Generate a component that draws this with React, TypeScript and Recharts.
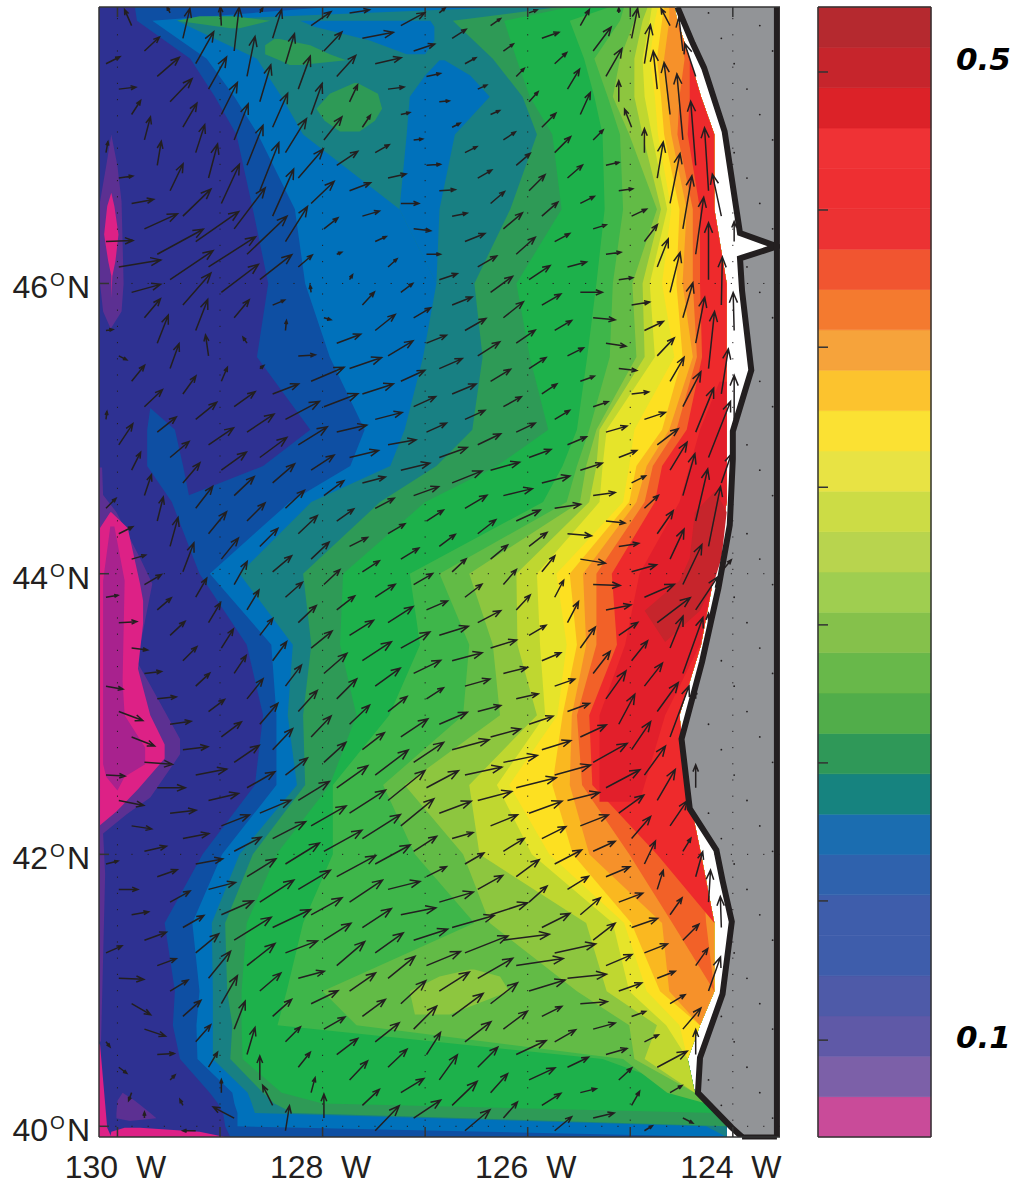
import React from 'react';
import { ComposedChart, BarChart, Area, Bar, Line, Scatter, XAxis, YAxis, ReferenceLine } from 'recharts';

const merc = (lat: number) => (180 / Math.PI) * Math.log(Math.tan(Math.PI / 4 + (lat * Math.PI) / 360));
const unmerc = (m: number) => (360 / Math.PI) * Math.atan(Math.exp((m * Math.PI) / 180)) - 90;

const W0 = 123.54;
const W1 = 130.18;
const LAT0 = 39.92;
const LAT1 = 47.84;
const lonTicks = [130, 129, 128, 127, 126, 125, 124];
const latTicks = [40, 42, 44, 46];

// contour outlines: degrees west of each contour's western edge, per latitude
const rowLat = [39.92, 40, 40.1, 40.17, 40.25, 40.5, 40.75, 41, 41.5, 42, 42.5, 43, 43.5, 44, 44.5, 44.75, 45, 45.5, 46, 46.5, 47, 47.25, 47.5, 47.75, 47.84];
const fieldEast = [124.06, 124.06, 124.16, 124.26, 124.37, 124.44, 124.32, 124.18, 124.18, 124.31, 124.45, 124.52, 124.31, 124.18, 124.06, 124.06, 124.06, 124.06, 124.06, 124.18, 124.18, 124.31, 124.42, 124.54, 124.57];
const _ = null;
const westDB = [128.9, 128.95, 128.97, 129.02, 129.1, 129.39, 129.46, 129.44, 129.54, 129.17, 128.66, 128.58, 128.74, 129.2, 129.47, 128.58, 128.12, 128.64, 128.53, 128.68, 128.84, 129.05, 129.29, 129.81, 129.83];
const westB = [_, 128.83, 128.83, 128.86, 128.88, 129.22, 129.23, 129.2, 129.27, 128.98, 128.45, 128.45, 128.5, 129.1, 128.32, 127.73, 127.59, 127.93, 128.17, 128.27, 128.63, 128.86, 129.13, 129.66, 127.93];
const westT = [_, 124.26, 128.66, 128.69, 128.73, 129.07, 129.07, 129.07, 129.08, 128.81, 128.25, 128.34, 128.29, 128.81, 128.11, 127.34, 127.2, 127.02, 126.89, 127.25, 128.19, 128.4, 128.64, 129.42, 126.17];
const westDG = [_, _, 128.29, 128.47, 128.58, 128.9, 128.88, 128.93, 128.95, 128.68, 128.17, 128.19, 128.11, 128.19, 127.44, 126.89, 126.54, 126.44, 126.52, 126.17, 125.91, 126.05, 126.34, 126.73, 125.69];
const westG = [_, _, _, 128.0, 128.4, 128.78, 128.79, 128.79, 128.74, 128.45, 127.93, 127.67, 127.83, 127.8, 127.0, 126.3, 125.8, 125.98, 126.11, 125.67, 125.76, 125.98, 126.11, 126.23, 125.59];
const westG2 = [_, _, _, _, _, 125.27, 128.44, 128.35, 128.19, 127.9, 127.9, 127.35, 127.05, 127.15, 125.85, 125.66, 125.52, 125.42, 125.33, 125.25, 125.27, 125.35, 125.45, 125.59, 125.2];
const westG3 = [_, _, _, _, 124.64, 125.07, 127.67, 128.0, 126.52, 127.1, 127.41, 126.63, 126.57, 126.86, 125.62, 125.52, 125.4, 125.2, 125.17, 125.07, 125.1, 125.22, 125.35, 125.1, 125.06];
const westG4 = [_, _, _, _, _, 124.96, 125.01, 125.52, 126.37, 126.63, 127.2, 126.27, 126.34, 126.57, 125.49, 125.43, 125.33, 124.94, 124.98, 124.74, 125.01, 125.17, 125.1, 124.96, 124.91];
const westYG = [_, _, _, _, _, 124.86, 124.74, 125.23, 125.43, 126.47, 126.57, 125.91, 126.1, 126.11, 125.4, 125.33, 125.3, 124.86, 124.88, 124.7, 124.88, 124.96, 124.96, 124.88, 124.83];
const westLY = [_, _, _, _, _, _, 124.65, 125.01, 125.17, 125.96, 126.3, 125.83, 125.88, 125.91, 125.3, 125.27, 125.23, 124.76, 124.81, 124.64, 124.79, 124.86, 124.88, 124.81, 124.79];
const westY = [_, _, _, _, _, _, 124.52, 124.84, 125.06, 125.79, 126.18, 125.71, 125.62, 125.72, 125.07, 125.01, 124.96, 124.57, 124.69, 124.6, 124.73, 124.76, 124.81, 124.76, 124.73];
const westAmber = [_, _, _, _, _, _, _, 124.71, 124.99, 125.56, 125.76, 125.66, 125.52, 125.59, 125.01, 124.94, 124.69, 124.49, 124.55, 124.52, 124.67, 124.7, 124.74, 124.69, 124.67];
const westOrange = [_, _, _, _, _, _, _, 124.62, 124.69, 125.4, 125.59, 125.57, 125.43, 125.46, 124.94, 124.84, 124.62, 124.39, 124.49, 124.45, 124.6, 124.64, 124.67, 124.62, 124.62];
const westORed = [_, _, _, _, _, _, _, _, 124.59, 125.01, 125.47, 125.52, 125.33, 125.33, 124.86, 124.78, 124.55, 124.35, 124.39, 124.39, 124.54, 124.52, 124.47, _, _];
const eastORed = [124.06, 124.06, 124.16, 124.26, 124.37, 124.44, 124.32, 124.18, 124.26, 124.31, 124.45, 124.52, 124.31, 124.18, 124.06, 124.06, 124.06, 124.06, 124.06, 124.18, 124.18, 124.31, 124.42, 124.54, 124.57];
const westRed = [_, _, _, _, _, _, _, _, _, 124.74, 125.37, 125.4, 125.13, 125.18, 124.76, 124.69, 124.45, 124.3, 124.32, 124.32, 124.44, 124.42, _, _, _];

// closed patches: latitude, western edge, eastern edge
const tongueLat = [44.5, 44.75, 45, 45.15];
const tongueW = [129.47, 129.71, 129.71, 129.68];
const tongueE = [129.29, 129.36, 129.44, 129.68];
const holeLat = [46, 46.5, 47, 47.25, 47.39, 47.49];
const holeW = [126.89, 127.25, 127.18, 127.15, 127.0, 126.86];
const holeE = [126.89, 126.86, 126.71, 126.37, 126.56, 126.81];
const bandLat = [47.53, 47.62, 47.71, 47.75];
const bandW = [127.18, 127.54, 128.08, 128.22];
const bandE = [127.0, 126.91, 126.91, 126.95];
const patchALat = [47.7, 47.75, 47.78];
const patchAW = [128.9, 129.42, 129.2];
const patchAE = [128.81, 128.51, 128.86];
const patchBLat = [47.46, 47.49, 47.53, 47.59, 47.63];
const patchBW = [128.32, 128.42, 128.56, 128.56, 128.47];
const patchBE = [128.22, 127.77, 127.93, 128.12, 128.42];
const patchCLat = [47.02, 47.09, 47.17, 47.27, 47.34];
const patchCW = [127.83, 127.98, 128.06, 127.93, 127.69];
const patchCE = [127.64, 127.49, 127.42, 127.46, 127.66];
const lobeLat = [40.83, 41, 41.11, 41.16];
const lobeW = [127.1, 127.15, 126.86, 126.56];
const lobeE = [126.76, 126.18, 126.27, 126.52];
const crimsonLat = [42.38, 43, 43.5, 44, 44.5, 45, 45.33];
const crimsonW = [125.3, 125.3, 125.05, 124.91, 124.52, 124.32, 124.13];
const crimsonE = [124.91, 124.66, 124.32, 124.18, 124.06, 124.06, 124.06];
const darkLat = [43.52, 43.74, 43.95, 44.11, 44.43, 44.57];
const darkW = [124.66, 124.86, 124.52, 124.42, 124.37, 124.18];
const darkE = [124.66, 124.32, 124.18, 124.11, 124.06, 124.16];
const purpleNLat = [45.7, 45.81, 46, 46.55, 46.79, 47];
const purpleNW = [130.07, 130.14, 130.17, 130.17, 130.11, 130.06];
const purpleNE = [130.06, 129.96, 129.94, 129.96, 130.0, 130.06];
const pinkNLat = [45.9, 46.05, 46.15, 46.33, 46.52, 46.61];
const pinkNW = [130.06, 130.06, 130.09, 130.13, 130.1, 130.06];
const pinkNE = [130.06, 130.05, 130.02, 129.99, 130.03, 130.06];
const purpleSLat = [40.63, 41.86, 42.15, 42.29, 42.41, 42.72, 42.83, 43.24, 43.38, 43.93, 44.11, 44.43, 44.55, 44.74];
const purpleSE = [130.16, 130.12, 130.14, 129.91, 129.68, 129.39, 129.39, 129.7, 129.81, 129.66, 129.78, 130.01, 130.14, 130.15];
const pinkSLat = [42.21, 42.31, 42.47, 42.69, 42.79, 43, 43.33, 43.65, 43.81, 43.93, 44.32, 44.43];
const pinkSW = [130.17, 130.17, 130.17, 130.17, 130.17, 130.17, 130.17, 130.17, 130.17, 130.17, 130.17, 130.07];
const pinkSE = [130.17, 130.01, 129.8, 129.54, 129.54, 129.68, 129.8, 129.75, 129.75, 129.78, 129.9, 130.06];
const magentaLat = [42.46, 42.56, 42.65, 42.77, 43, 43.24, 43.95, 44.33];
const magentaW = [130.0, 130.11, 130.14, 130.14, 130.14, 130.14, 130.14, 130.07];
const magentaE = [130.0, 129.93, 129.73, 129.73, 129.93, 129.95, 129.93, 130.03];
const edgeLat = [39.92, 39.99, 40.61];
const edgeE = [130.06, 130.1, 130.17];
const floorLat = [39.92, 39.96, 39.99];
const floorW = [130.07, 130.06, 129.93];
const floorE = [128.95, 129.2, 129.78];
const wedgeLat = [40.04, 40.06, 40.1, 40.19, 40.25];
const wedgeW = [129.88, 130.01, 130.01, 130.0, 129.95];
const wedgeE = [129.88, 129.62, 129.68, 129.83, 129.95];

const coastLat = [39.92, 39.99, 40.25, 40.51, 40.98, 41.51, 41.81, 42.03, 42.33, 42.83, 43.38, 43.9, 44.34, 44.8, 44.99, 45.41, 45.95, 46.17, 46.25, 46.34, 47.02, 47.44, 47.6, 47.84];
const coastLon = [123.91, 124.01, 124.34, 124.32, 124.1, 124.01, 124.1, 124.16, 124.42, 124.5, 124.3, 124.14, 124.03, 124.0, 124.0, 123.82, 123.91, 123.93, 123.57, 123.93, 124.08, 124.28, 124.39, 124.54];

// velocity arrows along diagonal lines of the model grid: eastward, northward, ...
const arrowLine0 = [14,7,17,2,9,14,6,23,4,24,13,27,28,27,43,30,47,30,37,28,15,18,-4,6,4,3,26,10,34,18,29,18,23,15,20,15,17,12,18,9,17,11,20,13,25,16,29,16,27,13,17,11,28,12,37,10,37,8,34,9,27,11,21,13,23,17,18,16,28,14,41,9,39,4,27,2,22,6,21,6,13,12,8,14,8,5];
const arrowLine1 = [-7,16,15,14,22,19,22,23,14,24,9,28,9,34,18,39,31,41,40,38,32,25,12,5,1,10,17,1,33,14,34,13,30,7,29,7,23,6,19,10,17,10,18,11,19,11,21,9,29,9,30,8,25,7,23,6,30,8,34,7,40,10,33,12,24,12,27,14,21,13,20,17,22,17,26,11,23,8,14,5,14,7,30,16,12,7,10,-5];
const arrowLine2 = [-3,6,7,30,18,32,18,32,16,32,14,36,16,40,19,48,21,47,22,35,14,12,-1,7,7,-2,24,9,32,11,31,10,27,7,28,5,29,7,25,9,17,11,16,12,14,13,17,13,23,12,26,8,24,6,22,5,24,8,29,9,36,10,32,8,28,11,22,10,24,10,24,9,26,9,23,9,18,7,15,9,18,21,0,25];
const arrowLine3 = [-1,19,5,44,8,40,11,37,15,34,21,34,25,29,23,22,14,11,5,2,3,5,12,13,20,16,25,15,24,11,22,10,20,9,28,10,30,12,22,13,18,14,17,14,13,15,14,15,17,10,19,8,20,7,22,8,26,12,34,19,34,18,25,18,19,22,11,23,6,19,12,17,16,16,12,17,12,34];
const arrowLine4 = [3,5,9,29,9,30,12,33,11,31,18,23,21,14,21,8,17,5,11,5,9,8,12,9,17,10,20,8,23,10,24,10,20,9,23,11,29,8,29,7,24,11,18,14,13,16,9,17,11,21,15,21,17,22,20,28,16,30,19,28,21,29,18,31,17,25,8,13,7,25,2,32,-1,31];
const arrowLine5 = [20,14,18,19,19,21,8,17,8,12,14,8,18,4,18,0,17,-2,14,0,18,6,20,8,21,12,22,14,20,12,18,10,19,9,22,8,28,7,26,4,24,-2,25,-4,27,-1,25,5,19,13,16,20,18,23,21,29,19,51,0,0,0,23];
const arrowLine6 = [20,3,31,6,26,6,16,2,9,2,9,1,14,1,16,1,15,3,20,8,19,11,22,16,20,16,19,13,17,11,15,10,15,9,19,8,22,7,22,3,19,-2,20,3,25,7,30,13,33,25,13,32,20,56,0,8];
const arrowLine7 = [24,13,21,7,14,3,10,1,8,4,12,6,14,8,14,12,19,16,19,17,21,14,19,11,17,10,16,8,14,5,15,5,21,6,18,7,14,7,14,13,16,23,14,30,19,40,22,33,0,22];
const arrowLine8 = [6,5,14,9,11,6,9,4,9,4,12,8,14,12,16,16,16,14,15,8,19,5,22,0,22,-2,20,-3,18,-2,17,2,21,7,21,16,17,28,12,42,12,52,12,60,10,12];
const arrowLine9 = [10,7,10,7,8,8,9,10,14,14,16,16,15,13,14,7,13,4,15,2,14,2,18,3,19,9,17,18,14,24,18,35,18,44,22,56,10,29];
const arrowLine10 = [8,3,17,6,12,11,12,20,10,22,10,10,13,3,14,2,15,7,13,17,11,28,10,40,10,35,9,46,6,57,7,45,0,44];
const arrowLine11 = [9,16,18,24,16,28,0,21,-7,18,0,24,6,36,10,50,9,53,8,57,0,57,1,48,-1,38];
const arrowLine12 = [0,5,6,30,6,39,-4,38,-6,52,-6,66,-5,64,-4,63,-9,42,0,20];
const arrowLine13 = [-9,17,-4,34,-11,33];
const arrowLineM1 = [2,11,14,2,22,4,33,15,46,25,43,29,28,32,12,31,-3,21,6,14,21,15,27,18,27,20,22,19,19,18,19,18,18,17,16,15,18,14,24,15,29,19,25,18,19,15,27,18,30,20,32,17,32,12,21,6,19,11,25,14,37,12,46,6,47,7,36,11,20,10,21,12,21,10,16,4,21,5];
const arrowLineM2 = [27,1,42,7,29,8,16,19,11,28,9,25,13,18,21,17,25,17,25,18,20,19,18,18,18,18,19,16,17,15,18,17,21,17,23,20,20,20,20,19,22,17,33,25,37,30,33,27,23,15,20,10,34,10,42,12,43,17,35,20,27,21,24,18,30,14,26,12,19,12,17,14];
const arrowLineM3 = [7,1,8,-4,13,16,18,17,19,15,19,16,17,20,17,22,18,22,17,21,13,23,12,20,13,17,14,19,16,21,19,21,20,21,22,20,31,22,36,23,38,24,35,19,32,8,35,7,34,11,34,14,30,19,31,23,26,20,20,20,17,19,14,16];
const arrowLineM4 = [1,8,14,21,9,18,7,21,6,24,8,29,11,29,11,19,12,20,12,19,12,18,16,20,18,21,20,21,22,17,31,19,35,20,38,21,39,21,33,22,29,19,28,20,27,22,25,23,23,23,14,22,18,25,25,24,25,21];
const arrowLineM5 = [10,10,14,7,14,4,17,10,14,12,15,14,14,14,14,13,16,12,20,15,25,17,28,16,31,13,33,17,34,21,32,19,31,17,27,17,28,24,26,18,23,17,24,19,19,18,23,14,27,18];
const arrowLineM6 = [12,2,18,1,16,-2,17,2,19,2,21,3,25,3,31,6,30,7,28,11,27,14,29,18,34,22,38,18,32,12,26,7,27,13,21,12,21,16,18,19,17,16,24,25];
const arrowLineM7 = [17,-3,24,-9,23,-9,28,-2,28,0,26,3,26,5,27,5,27,7,32,14,37,23,28,22,21,18,19,17,15,15,12,15,4,15,0,24];
const arrowLineM8 = [19,-1,25,-5,20,-3,22,5,20,7,20,11,21,12,23,19,22,27,16,28,11,28,8,27,0,24,-10,20,4,25];
const arrowLineM9 = [12,3,19,0,17,3,22,8,19,7,18,11,18,16,15,17,9,15,0,13,-21,11];
const arrowLineM10 = [16,7,25,-1,19,-11,21,-7,17,1,5,5,-3,6,-13,0];
const arrowLineM11 = [4,-5,8,-6,-3,-8,0,6];
const arrowStarts = [
  [0, -1, arrowLine0], [1, -2, arrowLine1], [2, -2, arrowLine2], [3, -1, arrowLine3], [4, -1, arrowLine4],
  [5, 0, arrowLine5], [6, 0, arrowLine6], [7, 1, arrowLine7], [8, 1, arrowLine8], [9, 2, arrowLine9],
  [10, 2, arrowLine10], [11, 3, arrowLine11], [12, 3, arrowLine12], [13, 4, arrowLine13],
  [-1, 2, arrowLineM1], [-2, 5, arrowLineM2], [-3, 8, arrowLineM3], [-4, 11, arrowLineM4], [-5, 14, arrowLineM5],
  [-6, 17, arrowLineM6], [-7, 20, arrowLineM7], [-8, 23, arrowLineM8], [-9, 26, arrowLineM9], [-10, 29, arrowLineM10], [-11, 32, arrowLineM11],
] as [number, number, number[]][];
// grid points on land, where the velocity is zero: [line, first index, last index]
const landPoints = [[15,5,6],[14,4,9],[13,9,12],[12,13,15],[11,17,18],[10,19,21],[9,22,24],[8,24,27],[7,26,30],[6,28,33],[5,31,36],[4,36,39],[3,38,42],[2,40,41]];
const gridLon = 129.987;
const gridLat = 47.3;

// colour bar, bottom to top
const barColors = ['#c94b99','#7c60a8','#5f59a7','#4e5aa8','#3e5dab','#3e5dab','#2f62ad','#1b6db0','#16837f','#2f9858','#51ad4a','#68b84a','#85c14b','#9fce50','#b8d44e','#ccdc45','#e8e344','#fbe133','#fcc32e','#f6a33b','#f47a2f','#f15530','#ec3233','#ee2f32','#ef3235','#dc2228','#c6252c','#b5292f'];
const barTicks = [2.4, 5.85, 9.27, 12.69, 16.1, 19.57, 22.97, 26.39];
const barLabelAt = [2.48, 26.7];
const barLabels = ['0.1', '0.5'];

const levels = [
  { key: 'db', color: '#0e4fa3', west: westDB },
  { key: 'b', color: '#0071bb', west: westB },
  { key: 't', color: '#188083', west: westT },
  { key: 'dg', color: '#2e9a56', west: westDG },
  { key: 'g', color: '#1db14b', west: westG },
  { key: 'g2', color: '#3eb64a', west: westG2 },
  { key: 'g3', color: '#62bb46', west: westG3 },
  { key: 'g4', color: '#8dc63f', west: westG4 },
  { key: 'yg', color: '#bfd730', west: westYG },
  { key: 'ly', color: '#e6e42a', west: westLY },
  { key: 'y', color: '#fde021', west: westY },
  { key: 'amber', color: '#fab820', west: westAmber },
  { key: 'orange', color: '#f6912a', west: westOrange },
  { key: 'ored', color: '#f26128', west: westORed, east: eastORed },
  { key: 'red', color: '#ee2a2c', west: westRed },
];

const fieldRows = rowLat.map((lat, r) => {
  const row: any = { m: merc(lat), base: [W1, fieldEast[r]] };
  levels.forEach((l) => {
    const e = (l.east || fieldEast)[r];
    row[l.key] = [l.west[r] ?? e, e];
  });
  return row;
});

const band = (lat: number[], w: number[], e: number[]) => lat.map((v, i) => ({ m: merc(v), r: [w[i], e[i]] }));
const edgeBand = (lat: number[], e: number[]) => lat.map((v, i) => ({ m: merc(v), r: [W1, e[i]] }));
const landRows = coastLat.map((v, i) => ({ m: merc(v), r: [coastLon[i], 123.56], coast: coastLon[i] }));

const gridPoint = (i: number, j: number) => ({
  lon: gridLon - 0.125 * i - 0.375 * j,
  m: merc(gridLat) - 0.2476 * i + 0.1238 * j,
});
const arrows: any[] = [];
arrowStarts.forEach(([j, i0, uv]) => {
  for (let k = 0; k * 2 < uv.length; k++) {
    if (uv[k * 2] === 0 && uv[k * 2 + 1] === 0) continue;
    arrows.push({ ...gridPoint(i0 + k, j), u: uv[k * 2], v: uv[k * 2 + 1] });
  }
});
landPoints.forEach(([j, a, b]) => {
  for (let i = a; i <= b; i++) arrows.push({ ...gridPoint(i, j), u: 0, v: 0 });
});

const barRow: any = { name: 'scale' };
barColors.forEach((_c, i) => { barRow['s' + i] = 1; });

const INK = '#231f20';
const SANS = '"Liberation Sans", Arial, sans-serif';

const ArrowShape = (p: any) => {
  const { cx, cy, payload } = p;
  const { u, v } = payload;
  if (u === 0 && v === 0) return <circle cx={cx} cy={cy} r={0.9} fill={INK} />;
  const hx = cx + u;
  const hy = cy - v;
  const len = Math.hypot(u, v);
  const head = Math.min(Math.max(len * 0.32, 4), 11);
  const ang = Math.atan2(-v, u);
  const a1 = ang + Math.PI - 0.38;
  const a2 = ang + Math.PI + 0.38;
  const d = `M${cx} ${cy}L${hx} ${hy}M${hx + head * Math.cos(a1)} ${hy + head * Math.sin(a1)}L${hx} ${hy}L${hx + head * Math.cos(a2)} ${hy + head * Math.sin(a2)}`;
  return <path d={d} fill="none" stroke={INK} strokeWidth={1.5} strokeLinejoin="miter" />;
};

const LonTick = (p: any) => {
  const v = p.payload.value;
  if (v % 2 !== 0) return <g />;
  return (
    <text x={p.x - 2} y={1178} textAnchor="middle" fontFamily={SANS} fontSize={32} fill={INK}>
      {`${v}\u00a0\u00a0W`}
    </text>
  );
};
const LatTick = (p: any) => {
  const v = Math.round(unmerc(p.payload.value));
  return (
    <text x={90} y={p.y + 15} textAnchor="end" fontFamily={SANS} fontSize={32} fill={INK}>
      {v}
      <tspan fontSize={19} dx={2} dy={-12}>O</tspan>
      <tspan dx={2} dy={12}>N</tspan>
    </text>
  );
};
const Empty = () => <g />;
const barLabelContent = (idx: number) => (p: any) => (
  <text x={956} y={p.viewBox.y + 11} fontFamily='"DejaVu Sans", sans-serif' fontStyle="italic" fontWeight="bold" fontSize={31} fill="#000">
    {barLabels[idx]}
  </text>
);

const Fill = (props: any) => (
  <Area {...props} type="linear" stroke="none" fillOpacity={1} isAnimationActive={false} dot={false} activeDot={false} legendType="none" />
);

export default function App() {
  return (
    <div style={{ position: 'absolute', left: 0, top: 0, width: 1014, height: 1186, background: '#fff' }}>
      <div style={{ position: 'absolute', left: 0, top: 0 }}>
        <ComposedChart
          width={1014}
          height={1186}
          layout="vertical"
          data={fieldRows}
          margin={{ left: 98, right: 234, top: 6, bottom: 48 }}
        >
          <XAxis xAxisId={0} type="number" dataKey="lon" reversed domain={[W0, W1]} allowDataOverflow ticks={lonTicks} interval={0} height={1} tickSize={-10} tickMargin={0} tick={LonTick} stroke="#333" strokeWidth={1.5} orientation="bottom" />
          <XAxis xAxisId="top" type="number" reversed domain={[W0, W1]} allowDataOverflow ticks={lonTicks} interval={0} height={1} tickSize={-10} tickMargin={0} tick={Empty} stroke="#333" strokeWidth={1.5} orientation="top" />
          <YAxis type="number" dataKey="m" reversed domain={[merc(LAT0), merc(LAT1)]} allowDataOverflow ticks={latTicks.map(merc)} interval={0} width={1} tickSize={-10} tickMargin={0} tick={LatTick} stroke="#333" strokeWidth={1.5} />

          {Fill({ dataKey: 'base', fill: '#2e3192' })}
          {Fill({ dataKey: 'db', fill: levels[0].color })}
          {Fill({ data: band(tongueLat, tongueW, tongueE), dataKey: 'r', fill: levels[0].color })}
          {Fill({ dataKey: 'b', fill: levels[1].color })}
          {Fill({ dataKey: 't', fill: levels[2].color })}
          {Fill({ data: band(holeLat, holeW, holeE), dataKey: 'r', fill: levels[1].color })}
          {Fill({ data: band(bandLat, bandW, bandE), dataKey: 'r', fill: levels[1].color })}
          {Fill({ dataKey: 'dg', fill: levels[3].color })}
          {Fill({ data: band(patchALat, patchAW, patchAE), dataKey: 'r', fill: levels[3].color })}
          {Fill({ data: band(patchBLat, patchBW, patchBE), dataKey: 'r', fill: levels[3].color })}
          {Fill({ data: band(patchCLat, patchCW, patchCE), dataKey: 'r', fill: levels[3].color })}
          {Fill({ dataKey: 'g', fill: levels[4].color })}
          {Fill({ dataKey: 'g2', fill: levels[5].color })}
          {Fill({ dataKey: 'g3', fill: levels[6].color })}
          {Fill({ dataKey: 'g4', fill: levels[7].color })}
          {Fill({ data: band(lobeLat, lobeW, lobeE), dataKey: 'r', fill: levels[7].color })}
          {Fill({ dataKey: 'yg', fill: levels[8].color })}
          {Fill({ dataKey: 'ly', fill: levels[9].color })}
          {Fill({ dataKey: 'y', fill: levels[10].color })}
          {Fill({ dataKey: 'amber', fill: levels[11].color })}
          {Fill({ dataKey: 'orange', fill: levels[12].color })}
          {Fill({ dataKey: 'ored', fill: levels[13].color })}
          {Fill({ dataKey: 'red', fill: levels[14].color })}
          {Fill({ data: band(crimsonLat, crimsonW, crimsonE), dataKey: 'r', fill: '#e21f2b' })}
          {Fill({ data: band(darkLat, darkW, darkE), dataKey: 'r', fill: '#c6252c' })}
          {Fill({ data: band(purpleNLat, purpleNW, purpleNE), dataKey: 'r', fill: '#5c3092' })}
          {Fill({ data: band(pinkNLat, pinkNW, pinkNE), dataKey: 'r', fill: '#dd2186' })}
          {Fill({ data: edgeBand(purpleSLat, purpleSE), dataKey: 'r', fill: '#5c3092' })}
          {Fill({ data: band(pinkSLat, pinkSW, pinkSE), dataKey: 'r', fill: '#dd2186' })}
          {Fill({ data: band(magentaLat, magentaW, magentaE), dataKey: 'r', fill: '#a8228e' })}
          {Fill({ data: band(wedgeLat, wedgeW, wedgeE), dataKey: 'r', fill: '#5c3092' })}
          {Fill({ data: edgeBand(edgeLat, edgeE), dataKey: 'r', fill: '#dd2186' })}
          {Fill({ data: band(floorLat, floorW, floorE), dataKey: 'r', fill: '#dd2186' })}
          {Fill({ data: landRows, dataKey: 'r', fill: '#929497' })}

          {lonTicks.map((v) => (
            <ReferenceLine key={'gx' + v} x={v} stroke={INK} strokeWidth={1} strokeDasharray="1.2 15" />
          ))}
          {latTicks.map((v) => (
            <ReferenceLine key={'gy' + v} y={merc(v)} stroke={INK} strokeWidth={1} strokeDasharray="1.2 15" />
          ))}

          <Line data={landRows} dataKey="coast" type="linear" stroke={INK} strokeWidth={6} dot={false} activeDot={false} isAnimationActive={false} strokeLinejoin="miter" legendType="none" />
          <ReferenceLine x={123.57} stroke={INK} strokeWidth={6} />
          <ReferenceLine segment={[{ x: 123.91, y: merc(LAT0) }, { x: 123.57, y: merc(LAT0) }]} stroke={INK} strokeWidth={5} />
          <Scatter data={arrows} fill={INK} shape={ArrowShape} isAnimationActive={false} legendType="none" />
        </ComposedChart>
      </div>
      <div style={{ position: 'absolute', left: 0, top: 0 }}>
        <BarChart
          width={1014}
          height={1186}
          data={[barRow]}
          barCategoryGap={0}
          margin={{ left: 817, right: 82, top: 6, bottom: 48 }}
        >
          <XAxis dataKey="name" height={1} tick={false} tickLine={false} stroke="#333" strokeWidth={1.5} />
          <XAxis xAxisId="top" dataKey="name" orientation="top" height={1} tick={false} tickLine={false} stroke="#333" strokeWidth={1.5} />
          <YAxis yAxisId={0} type="number" domain={[0, 28]} ticks={barTicks} interval={0} width={1} tickSize={-10} tickMargin={0} tick={Empty} stroke="#333" strokeWidth={1.5} />
          <YAxis yAxisId="r" orientation="right" type="number" domain={[0, 28]} ticks={barTicks} interval={0} width={1} tickSize={-10} tickMargin={0} tick={Empty} stroke="#333" strokeWidth={1.5} />
          {barColors.map((c, i) => (
            <Bar key={i} dataKey={'s' + i} stackId="scale" fill={c} stroke={c} strokeWidth={0.6} isAnimationActive={false} legendType="none" />
          ))}
          {barLabelAt.map((v, i) => (
            <ReferenceLine key={'bl' + i} y={v} stroke="none" label={barLabelContent(i)} />
          ))}
        </BarChart>
      </div>
    </div>
  );
}
